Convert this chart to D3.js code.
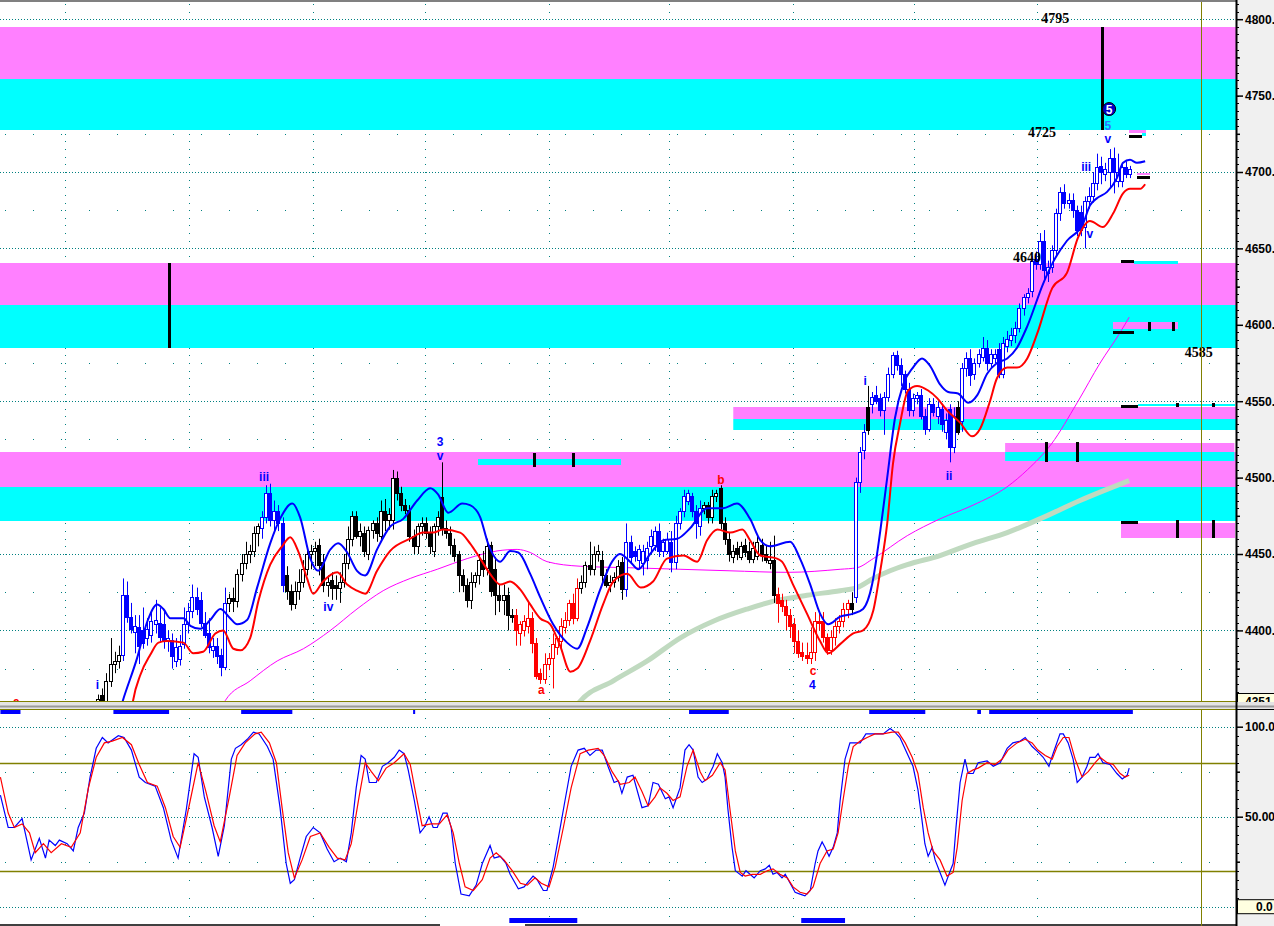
<!DOCTYPE html>
<html>
<head>
<meta charset="utf-8">
<script src="https://d3js.org/d3.v7.min.js"></script>
<style>
    html, body { margin: 0; padding: 0; background: #fff; overflow: hidden; }
    svg { display: block; }
    .wave { font-family: Arial, "Liberation Sans", sans-serif; font-weight: bold;
            font-size: 12px; text-anchor: middle; }
    .lvl { font-family: "Liberation Serif", "Times New Roman", serif; font-weight: bold;
           font-size: 14px; fill: #000; }
    .axis text { font-family: Arial, "Liberation Sans", sans-serif; font-weight: bold;
                 font-size: 12px; fill: #000; }
</style>
</head>
<body>
<script>
// ---------------------------------------------------------------------------
// Chart data. Bars are numbered from 0 (first bar that shows above 4351).
// Price series are [open, high, low, close]; lines are [bar, value].
// ---------------------------------------------------------------------------
var candles = [
    [4352,4358,4348,4355],[4358,4362,4348,4352],[4353,4372,4350,4367],[4367,4395,4363,4378],
    [4378,4386,4372,4380],[4380,4390,4375,4384],[4384,4434,4380,4423],[4423,4432,4405,4409],
    [4409,4418,4398,4401],[4399,4410,4385,4403],[4402,4410,4378,4390],[4400,4415,4388,4392],
    [4395,4408,4390,4401],[4397,4412,4392,4406],[4404,4420,4398,4407],[4405,4415,4392,4396],
    [4404,4412,4388,4394],[4393,4400,4386,4395],[4394,4398,4375,4383],[4380,4395,4376,4389],
    [4381,4397,4377,4390],[4391,4415,4388,4404],[4404,4418,4398,4413],[4413,4430,4408,4422],
    [4422,4428,4410,4414],[4420,4425,4402,4405],[4405,4412,4395,4397],[4398,4408,4385,4389],
    [4387,4395,4382,4390],[4390,4395,4378,4383],[4384,4388,4370,4376],[4376,4428,4374,4418],
    [4418,4424,4412,4421],[4421,4428,4412,4419],[4419,4440,4415,4437],[4437,4450,4432,4444],
    [4444,4458,4440,4450],[4450,4456,4444,4452],[4452,4468,4448,4464],[4464,4470,4455,4468],
    [4467,4478,4460,4474],[4474,4495,4470,4490],[4490,4496,4468,4472],[4472,4485,4465,4478],
    [4478,4482,4465,4470],[4470,4474,4425,4430],[4436,4442,4420,4426],[4426,4430,4413,4417],
    [4417,4432,4414,4426],[4426,4440,4420,4432],[4432,4446,4428,4440],[4440,4455,4436,4450],
    [4450,4456,4440,4452],[4452,4458,4442,4454],[4456,4460,4436,4443],[4445,4450,4425,4430],
    [4430,4436,4422,4432],[4433,4438,4420,4428],[4430,4436,4420,4428],[4428,4438,4418,4432],
    [4432,4450,4428,4444],[4444,4468,4440,4460],[4460,4478,4455,4475],[4475,4478,4460,4462],
    [4462,4470,4455,4465],[4464,4468,4448,4452],[4450,4468,4446,4466],[4466,4472,4460,4470],
    [4470,4474,4458,4464],[4462,4485,4458,4478],[4478,4486,4465,4472],[4472,4480,4466,4476],
    [4472,4505,4466,4500],[4500,4504,4485,4490],[4490,4494,4478,4482],[4482,4486,4476,4479],
    [4479,4482,4458,4462],[4462,4466,4450,4455],[4455,4470,4450,4468],[4468,4474,4462,4470],
    [4470,4474,4460,4464],[4464,4468,4450,4455],[4452,4470,4448,4468],[4468,4478,4462,4474],
    [4487,4510,4462,4467],[4467,4472,4460,4464],[4464,4468,4450,4456],[4456,4460,4445,4449],
    [4450,4452,4425,4436],[4436,4440,4425,4430],[4430,4434,4415,4420],[4420,4438,4414,4432],
    [4432,4438,4428,4436],[4436,4450,4430,4446],[4446,4452,4435,4440],[4441,4460,4436,4455],
    [4456,4458,4422,4426],[4440,4448,4410,4423],[4423,4430,4412,4420],[4420,4430,4410,4423],
    [4423,4428,4400,4410],[4410,4414,4405,4409],[4410,4414,4390,4400],[4398,4406,4390,4404],
    [4400,4410,4396,4406],[4403,4418,4398,4408],[4408,4412,4385,4392],[4392,4395,4368,4370],
    [4372,4375,4365,4368],[4368,4385,4365,4378],[4378,4385,4374,4382],[4382,4398,4362,4391],
    [4389,4396,4384,4395],[4393,4408,4388,4403],[4402,4412,4398,4407],[4407,4420,4403,4418],
    [4418,4424,4404,4408],[4408,4434,4406,4428],[4428,4436,4424,4432],[4432,4445,4428,4443],
    [4443,4458,4436,4440],[4440,4455,4436,4450],[4450,4456,4445,4452],[4446,4452,4430,4436],
    [4436,4440,4428,4430],[4430,4436,4425,4432],[4432,4438,4428,4435],[4435,4446,4432,4442],
    [4445,4448,4420,4427],[4427,4470,4422,4458],[4458,4462,4444,4448],[4452,4455,4445,4449],
    [4446,4456,4440,4453],[4444,4456,4436,4452],[4446,4458,4440,4454],[4455,4466,4450,4462],
    [4456,4468,4452,4465],[4465,4470,4448,4452],[4452,4460,4448,4458],[4452,4464,4450,4460],
    [4458,4465,4438,4445],[4445,4475,4440,4470],[4470,4480,4466,4478],[4478,4492,4474,4488],
    [4485,4492,4482,4490],[4488,4490,4474,4478],[4478,4482,4460,4470],[4468,4485,4462,4480],
    [4480,4484,4476,4482],[4482,4484,4470,4474],[4474,4492,4470,4488],[4488,4492,4484,4490],
    [4493,4495,4466,4470],[4470,4474,4456,4460],[4460,4464,4445,4450],[4448,4456,4444,4452],
    [4454,4458,4446,4450],[4448,4458,4446,4455],[4456,4460,4448,4451],[4452,4458,4444,4447],
    [4447,4458,4444,4454],[4449,4462,4446,4458],[4456,4460,4445,4450],[4450,4456,4444,4446],
    [4444,4458,4440,4446],[4446,4462,4418,4423],[4424,4428,4405,4418],[4420,4424,4412,4416],
    [4416,4420,4400,4410],[4410,4414,4395,4403],[4404,4408,4385,4393],[4393,4400,4382,4385],
    [4386,4392,4380,4383],[4384,4392,4378,4382],[4382,4402,4378,4386],[4386,4412,4380,4406],
    [4406,4412,4400,4405],[4406,4412,4392,4396],[4396,4398,4384,4387],[4387,4400,4384,4396],
    [4396,4408,4390,4403],[4403,4410,4398,4406],[4406,4418,4402,4414],[4414,4420,4408,4418],
    [4418,4425,4410,4414],[4422,4500,4418,4497],[4497,4520,4490,4517],[4518,4535,4512,4530],
    [4546,4560,4528,4531],[4548,4556,4542,4553],[4554,4560,4548,4550],[4552,4555,4540,4544],
    [4544,4556,4528,4553],[4553,4572,4550,4568],[4568,4582,4565,4580],[4580,4583,4570,4574],
    [4574,4578,4560,4568],[4568,4570,4555,4558],[4558,4562,4540,4544],[4544,4555,4540,4552],
    [4552,4556,4548,4554],[4554,4558,4538,4540],[4540,4545,4528,4532],[4532,4552,4530,4548],
    [4548,4552,4540,4543],[4540,4550,4535,4546],[4545,4548,4530,4535],[4530,4542,4525,4538],
    [4545,4548,4510,4520],[4520,4546,4516,4540],[4546,4550,4528,4530],[4537,4575,4530,4572],
    [4572,4582,4566,4578],[4578,4584,4560,4567],[4568,4578,4564,4575],[4575,4584,4572,4581],
    [4579,4592,4576,4585],[4585,4590,4570,4575],[4575,4584,4572,4581],[4578,4584,4575,4581],
    [4584,4588,4565,4568],[4568,4592,4565,4588],[4586,4596,4582,4591],[4590,4598,4586,4593],
    [4593,4602,4588,4598],[4598,4614,4595,4611],[4611,4620,4606,4618],[4618,4624,4614,4621],
    [4622,4645,4618,4642],[4643,4648,4636,4640],[4640,4660,4636,4655],[4655,4662,4630,4636],
    [4634,4642,4628,4638],[4638,4652,4634,4649],[4649,4676,4645,4673],[4673,4690,4668,4687],
    [4687,4692,4676,4680],[4680,4686,4676,4682],[4682,4686,4670,4675],[4675,4678,4658,4662],
    [4674,4678,4658,4662],[4664,4684,4650,4681],[4681,4690,4676,4684],[4684,4700,4680,4693],
    [4693,4712,4688,4703],[4704,4710,4692,4700],[4699,4706,4694,4702],[4700,4715,4690,4709],
    [4709,4716,4686,4700],[4694,4712,4690,4700],[4694,4706,4690,4703],[4703,4707,4696,4699],
    [4699,4704,4696,4702]
];

// bar ranges painted blue / red by the trend colouring
var blueRuns = [[6,31],[40,45],[129,147],[185,187],[189,209],[211,252]];
var redRuns = [[102,117],[166,183]];

// smoothed upper (blue) and lower (red) lines
var upperLine = [[5,4345],[6,4354],[9.5,4382],[12,4406],[14.4,4417],[15.9,4414],[17.6,4408],
    [20.8,4408],[22.5,4403],[24.9,4401],[27.4,4407],[29.8,4414],[32.2,4408],[33.9,4404],
    [36.4,4407],[38.8,4428],[42,4457],[44.4,4473],[47.4,4483],[49.3,4474],[51.8,4447],
    [53.7,4439],[56.7,4453],[58.6,4457],[60.8,4451],[63.2,4439],[65.2,4436],[68.1,4453],
    [71.3,4468],[74.5,4473],[77.9,4485],[81.1,4493],[83,4489],[85.5,4477],[88.9,4483],
    [90.8,4482],[93.3,4474],[95.2,4457],[98.2,4445],[100.6,4452],[102.6,4451],[105.5,4437],
    [107.9,4422],[111.1,4404],[114.5,4392],[117,4388],[119.4,4402],[122.5,4426],[125.5,4445],
    [127.4,4450],[129.9,4445],[131.9,4440],[134.8,4450],[138,4459],[141.4,4460],[144.6,4467],
    [148.7,4480],[152.6,4480],[156,4483],[159.2,4473],[161.7,4459],[164.1,4455],[169,4458],
    [171.4,4447],[173.9,4430],[176.3,4411],[178.3,4404],[181.2,4409],[184.4,4411],[186.8,4414],
    [189,4430],[191,4465],[192.7,4500],[194.6,4539],[196.6,4561],[199,4572],[201.2,4578],
    [203.2,4573],[205.6,4561],[207.6,4556],[210,4555],[212.5,4549],[214.7,4554],[217.1,4568],
    [219.5,4575],[222,4578],[224.4,4585],[226.9,4599],[230.8,4627],[233.2,4641],[236.6,4655],
    [240.5,4666],[242.2,4678],[244,4683],[246.4,4687],[248.8,4696],[250.3,4706],[252,4708],
    [253.7,4706],[255.7,4707]];
var lowerLine = [[8,4345],[8.5,4354],[10.3,4371],[12.7,4384],[14.7,4392],[16.8,4393],
    [20.8,4392],[23.2,4385],[25.6,4386],[28.6,4398],[30.5,4400],[33,4388],[34.7,4387],
    [37.1,4395],[39.1,4419],[42,4443],[44.9,4455],[46.9,4461],[48.8,4452],[51,4434],
    [52.5,4424],[54.9,4432],[58.4,4438],[60.8,4430],[63.2,4426],[65.2,4424],[68.1,4439],
    [71.3,4452],[76.2,4460],[79.4,4464],[81.8,4464],[84.2,4466],[88.4,4464],[90.8,4457],
    [93.3,4447],[95.7,4437],[98.2,4430],[100.6,4432],[103,4427],[105.5,4417],[107.9,4408],
    [110.4,4404],[112.8,4390],[115.3,4373],[117,4375],[120.1,4393],[123.3,4417],[125.8,4432],
    [129.2,4437],[132.5,4428],[135.5,4432],[138.9,4447],[142.9,4449],[146.3,4445],[148.7,4459],
    [151.2,4466],[154.4,4464],[157.3,4466],[159.2,4459],[161.7,4449],[165.8,4447],[167,4445],
    [169.7,4430],[173.1,4411],[176.3,4393],[178.3,4385],[181.2,4391],[184.4,4398],[186.8,4400],
    [189.3,4413],[191,4439],[192.7,4470],[194.1,4509],[195.8,4535],[197.8,4557],[200,4560],
    [202.7,4557],[204.9,4552],[207.3,4544],[210.5,4536],[213.4,4527],[215.4,4532],[217.8,4550],
    [219.5,4565],[222,4572],[224.4,4572],[226.9,4578],[229.3,4594],[233,4624],[236.6,4634],
    [239.3,4657],[242.2,4668],[245.4,4664],[247.9,4673],[250.3,4686],[252,4689],[254.5,4689],
    [255.7,4692]];

// moving averages
var fastMA = [[30,4345],[31,4354],[37.1,4367],[43.7,4380],[50.1,4388],[56.7,4400],
    [63.2,4414],[69.6,4426],[76.2,4434],[82.8,4440],[90.1,4447],[94,4450],[97.4,4452],
    [102.3,4453],[105.5,4451],[109.6,4445],[117.7,4442],[129.9,4441],[142.1,4440],
    [154.3,4439],[168.5,4438],[181.2,4440],[185.3,4441],[189.3,4447],[197.6,4462],
    [205.6,4473],[213.7,4482],[222,4494],[226.9,4505],[232.8,4522],[239.1,4549],
    [244.7,4575],[249.6,4595],[251.8,4605]];
var slowMA = [[116,4345],[117.2,4352],[125.8,4367],[134.1,4380],[142.1,4395],[150.2,4406],
    [158.5,4414],[164.8,4419],[173.1,4423],[181.2,4426],[185.3,4428],[189.3,4434],
    [193.4,4439],[197.6,4443],[205.6,4449],[213.7,4457],[222,4464],[230,4473],
    [239.8,4485],[251.8,4498]];

// stochastic %K (blue) and %D (red)
var stochK = [[-23.9,62],[-22,44],[-20.5,44],[-18.6,49],[-16.4,26],[-14.4,38],[-12.9,27],
    [-12,37],[-10.5,34],[-9.5,37],[-7.6,35],[-6.1,31],[-4.9,44],[-3.4,52],[-2,72],[-0.5,88],
    [1,94],[2.4,91],[4.9,95],[6.3,94],[8.1,87],[10,72],[11.5,69],[13.9,67],[15.9,55],
    [17.8,37],[19.5,27],[21.5,54],[23.4,85],[24.4,83],[25.9,61],[27.8,44],[29.3,28],
    [30.8,45],[32.5,82],[33.5,88],[34.9,90],[36.4,93],[37.9,97],[39.3,96],[41.3,89],
    [42.7,82],[44.4,55],[45.9,24],[46.9,13],[47.9,15],[49.3,27],[50.8,39],[52.5,44],
    [54.2,41],[55.9,32],[57.6,25],[59.1,27],[60.6,25],[61.8,41],[63,66],[64.2,84],[65.2,82],
    [66.2,69],[67.9,69],[69.4,78],[70.8,80],[72.3,83],[73.5,87],[74.7,85],[75.7,76],
    [77.2,59],[78.6,41],[79.6,44],[80.8,50],[81.8,44],[82.8,44],[84.2,52],[85.2,52],
    [86.2,44],[87.2,24],[88.6,7],[90.6,6],[92.3,12],[93.8,24],[95.7,34],[96.7,27],[98.2,28],
    [99.6,24],[100.6,18],[102.6,10],[104,11],[106.2,17],[107.2,15],[108.7,9],[109.6,9],
    [111.1,22],[112.6,41],[114,59],[115.5,78],[117.2,87],[118.7,88],[120.1,84],[121.6,87],
    [123.1,87],[124.5,78],[126,69],[127,70],[127.9,63],[129.2,72],[130.6,73],[132.8,55],
    [134.3,56],[135.5,69],[136.8,68],[138.5,60],[139.4,61],[140.4,55],[142.1,66],[143.3,87],
    [144.3,90],[145.3,87],[146.5,72],[147.5,69],[148.7,71],[150.2,78],[151.2,85],[152.4,80],
    [153.1,72],[153.8,54],[154.8,33],[155.6,20],[157.3,17],[158.2,20],[159.2,18],[160.2,16],
    [161.7,20],[162.9,21],[163.9,23],[164.8,18],[165.8,19],[167,16],[167.8,18],[169,13],
    [170.2,8],[171.4,7],[172.6,6],[173.9,9],[175.1,24],[175.8,31],[176.8,36],[177.5,33],
    [178.5,28],[179.5,33],[180.5,41],[181.2,59],[182.4,82],[183.6,91],[186.1,91],[187.5,96],
    [189,96],[190.2,96],[191.7,96],[193.4,99],[194.6,97],[195.8,94],[197.6,85],[199,78],
    [200.2,65],[201.2,48],[201.9,35],[202.7,28],[203.7,33],[204.4,26],[205.6,19],[206.8,12],
    [208.1,20],[208.8,24],[209.5,44],[210.5,69],[211.7,82],[212.5,74],[213.7,74],[214.9,80],
    [217.1,81],[218.6,78],[220.3,80],[222,88],[223.4,91],[225.2,92],[226.4,94],[228.1,89],
    [229.5,86],[230.8,83],[232.2,78],[233.2,85],[234.9,96],[235.7,96],[236.9,91],[238.1,82],
    [239.1,69],[240.3,72],[241.5,78],[242.2,83],[243.5,83],[244.2,85],[245.4,80],[247.1,79],
    [248.8,74],[250.1,71],[251.3,73],[251.8,77]];
var stochD = [[-23.9,72],[-22,52],[-20.5,44],[-18.6,46],[-16.8,41],[-15.4,30],[-13.4,35],
    [-11.5,30],[-9,35],[-6.6,33],[-4.4,41],[-2.4,66],[-0.5,83],[1.5,91],[3.4,92],[5.9,94],
    [8.1,90],[10,79],[12,69],[14.4,67],[16.4,55],[18.3,39],[20,33],[22,54],[24.4,80],
    [26.4,63],[28.3,45],[29.8,36],[32,61],[33.9,84],[35.9,91],[38.3,96],[39.8,97],[41.8,91],
    [43.5,80],[44.9,55],[46.4,30],[47.9,16],[49.8,26],[51.8,39],[54.2,41],[56.4,33],
    [58.4,27],[60.3,26],[61.8,35],[63.7,61],[65.2,80],[66.7,75],[68.4,70],[70.3,77],
    [72.3,80],[74.7,85],[76.2,79],[77.7,61],[79.1,45],[81.3,46],[83.3,46],[85.2,51],
    [86.7,41],[88.2,24],[89.6,11],[91.6,9],[93.8,15],[95.7,27],[97.2,30],[99.1,26],
    [101.1,20],[103.1,13],[104.8,12],[106.7,16],[108.2,13],[110.1,11],[111.6,22],[113.6,44],
    [115.5,66],[117.7,85],[119.7,87],[122.1,88],[123.6,84],[125.5,75],[127.5,68],[129.7,69],
    [131.1,72],[132.8,64],[134.3,56],[136,61],[137.2,66],[138.9,63],[140.4,59],[142.1,61],
    [143.8,78],[145.3,87],[147,75],[148.2,70],[150,73],[151.9,80],[153.1,76],[154.3,54],
    [155.6,31],[156.8,19],[158,17],[159.7,18],[161.7,18],[163.4,20],[164.8,21],[166.5,18],
    [168.3,16],[169.7,11],[171.4,8],[173.1,7],[174.6,11],[176.3,24],[178,31],[179.5,32],
    [180.7,41],[181.9,59],[183.2,78],[184.4,89],[186.1,92],[187.8,94],[189.7,96],[191.7,96],
    [193.9,97],[195.4,97],[197.1,91],[198.8,83],[200.2,74],[201.5,55],[202.7,41],[203.9,31],
    [205.6,26],[207.3,17],[208.8,19],[209.8,33],[211,59],[212.2,74],[213.7,76],[214.9,77],
    [217.1,80],[219,79],[220.8,82],[222.2,87],[224.4,91],[226.4,93],[228.1,91],[229.5,87],
    [231.3,84],[233,82],[234.2,89],[235.7,94],[237.1,94],[238.6,82],[240.3,72],[241.8,75],
    [243.5,80],[244.7,83],[246.4,80],[247.9,79],[249.6,74],[250.8,72],[251.8,73]];

// target zones: [fromBar, toBar, low, middle, high]  (magenta above middle, cyan below)
var zones = [[-24,278,4727.5,4761,4795],[-24,278,4585,4613,4640.5],[-24,278,4471.5,4494,4517],
    [155.1,278,4531,4538.5,4546],[221.5,277.5,4511,4517,4522.6]];
// small projection pieces: [fromBar, toBar, low, high]
var magentaBits = [[251.8,255.9,4725.5,4727.5],[253.7,256.9,4698,4699.5],
    [247.9,263.7,4597,4601.6],[249.8,277.7,4460,4470]];
var cyanBits = [[254.9,255.9,4723.5,4725.5],[253,263.7,4640,4642],
    [254,277.7,4546.8,4548],[92.8,127.7,4508,4512]];
// black dashes [fromBar, toBar, price] and ticks [bar, low, high]
var blackDashes = [[251.8,254.9,4723.8],[253.7,256.9,4697],[249.8,253,4641.5],
    [247.9,253,4595.5],[249.8,254,4547],[249.8,254,4471]];
var blackTicks = [[17.3,4585,4640.5],[245.2,4727.5,4795],[106.5,4507,4516],[116,4507,4516],
    [231.5,4510.5,4523.6],[239.1,4510.5,4523.6],[256.7,4595.7,4601.6],[262.5,4595.7,4601.6],
    [263.5,4460,4472],[272.3,4460,4472],[263.5,4546.5,4549],[272.3,4546.5,4549]];

// level labels [text, bar, price] and wave counts
var levelLabels = [["4795",230.3,4797.5],["4725",227.1,4722.9],["4640",223.4,4641.1],
    ["4585",265.4,4578.9]];
var blueWaves = [["i",-0.2,4361.7],["iii",40.5,4497.8],["iv",56.2,4412.7],["3",83.5,4520.7],
    ["v",83.5,4511.5],["i",187.3,4560.6],["ii",207.8,4498.5],["iii",241.3,4700.7],
    ["v",242.2,4656.9],["v",246.6,4719],["4",174.4,4361.6]];
var lightWaves = [["5",246.6,4727.5]];
var redWaves = [["a",108.2,4358.4],["b",152.1,4495.9],["c",174.6,4371],["a",-20,4350.5]];
var circledMark = [246.9, 4741.2, "5"];
var lowestShown = 4351;

// signal strips under the price panel and at the bottom
var topSignal = [[-23.9,-19],[3.7,17.3],[34.9,47.4],[76.9,77.4],[144.3,154],[188.3,202],
    [214.7,215.6],[217.6,252.7]];
var bottomSignal = [[100.4,117],[171.7,182.4]];

// vertical time grid (bar positions) and axis ticks
var timeGrid = [-8.1,22.2,52.5,79.9,110.1,139.4,169.7,199.3,229.3];
var priceTicks = [4400,4450,4500,4550,4600,4650,4700,4750,4800];
var priceMinor = [4375,4425,4475,4525,4575,4625,4675,4725,4775];
var stochTicks = [50,100];
var stochMinor = [25,75];
var stochBands = [20,80];

// ---------------------------------------------------------------------------
var W = 1274, H = 926, plotRight = 1236;
var topY0 = 2, topY1 = 701, botY0 = 710, botY1 = 924;

var svg = d3.select("body").append("svg").attr("width", W).attr("height", H);
var defs = svg.append("defs");
defs.append("clipPath").attr("id", "clipTop").append("rect")
    .attr("x", 0).attr("y", topY0).attr("width", plotRight).attr("height", topY1 - topY0);
defs.append("clipPath").attr("id", "clipBot").append("rect")
    .attr("x", 0).attr("y", botY0).attr("width", plotRight).attr("height", botY1 - botY0);

var x = d3.scaleLinear().domain([-24, 252]).range([0, 1130]);
var yP = d3.scaleLinear().domain([4400, 4800]).range([630.4, 19.2]);
var yS = d3.scaleLinear().domain([0, 100]).range([906.7, 726.7]);

var TEAL = "#008080", OLIVE = "#808000";
var px = function(v) { return Math.round(v) + 0.5; };

// axis background
svg.append("rect").attr("x", plotRight).attr("y", 0).attr("width", W - plotRight)
    .attr("height", H).attr("fill", "#f0f0f0");

// ---------------- upper panel ----------------
var upper = svg.append("g").attr("clip-path", "url(#clipTop)");

// grid
upper.selectAll("line.gmaj").data(priceTicks).join("line")
    .attr("x1", 0).attr("x2", plotRight)
    .attr("y1", function(d) { return px(yP(d)); }).attr("y2", function(d) { return px(yP(d)); })
    .attr("stroke", TEAL).attr("stroke-dasharray", "1,2");
upper.selectAll("line.gmin").data(priceMinor).join("line")
    .attr("x1", 0).attr("x2", plotRight)
    .attr("y1", function(d) { return px(yP(d)); }).attr("y2", function(d) { return px(yP(d)); })
    .attr("stroke", TEAL).attr("stroke-dasharray", "1,27").attr("stroke-dashoffset", 23);
upper.selectAll("rect.vdot").data(d3.cross(timeGrid, d3.range(4355, 4811, 5))).join("rect")
    .attr("x", function(d) { return Math.round(x(d[0])); })
    .attr("y", function(d) { return Math.round(yP(d[1])); })
    .attr("width", 1).attr("height", 1).attr("fill", TEAL);

// zones
zones.forEach(function(z) {
    upper.append("rect").attr("x", x(z[0])).attr("width", x(z[1]) - x(z[0]))
        .attr("y", Math.round(yP(z[4]))).attr("height", Math.round(yP(z[3])) - Math.round(yP(z[4])))
        .attr("fill", "#ff80ff");
    upper.append("rect").attr("x", x(z[0])).attr("width", x(z[1]) - x(z[0]))
        .attr("y", Math.round(yP(z[3]))).attr("height", Math.round(yP(z[2])) - Math.round(yP(z[3])))
        .attr("fill", "#00ffff");
});
function bits(data, colour) {
    upper.append("g").selectAll("rect").data(data).join("rect")
        .attr("x", function(d) { return Math.round(x(d[0])); })
        .attr("width", function(d) { return Math.round(x(d[1]) - x(d[0])); })
        .attr("y", function(d) { return Math.round(yP(d[3])); })
        .attr("height", function(d) { return Math.max(2, Math.round(yP(d[2]) - yP(d[3]))); })
        .attr("fill", colour);
}
bits(magentaBits, "#ff80ff");
bits(cyanBits, "#00ffff");

// moving averages
var priceLine = d3.line().x(function(d) { return x(d[0]); })
    .y(function(d) { return yP(d[1]); }).curve(d3.curveMonotoneX);
upper.append("path").datum(slowMA).attr("d", priceLine).attr("fill", "none")
    .attr("stroke", "#c0dac0").attr("stroke-width", 5);
upper.append("path").datum(fastMA).attr("d", priceLine).attr("fill", "none")
    .attr("stroke", "#ff00ff").attr("stroke-width", 1);

// candles
function barColour(i) {
    var c = "#000";
    blueRuns.forEach(function(r) { if (i >= r[0] && i <= r[1]) c = "#0000ff"; });
    redRuns.forEach(function(r) { if (i >= r[0] && i <= r[1]) c = "#ff0000"; });
    return c;
}
var bars = upper.append("g").selectAll("g").data(candles).join("g");
bars.append("line")
    .attr("x1", function(d, i) { return Math.round(x(i)) + 0.5; })
    .attr("x2", function(d, i) { return Math.round(x(i)) + 0.5; })
    .attr("y1", function(d) { return yP(d[1]); })
    .attr("y2", function(d) { return yP(d[2]); })
    .attr("stroke", function(d, i) { return barColour(i); }).attr("stroke-width", 1);
bars.append("rect")
    .attr("x", function(d, i) { return Math.round(x(i)) - 1.5; })
    .attr("width", 3)
    .attr("y", function(d) { return Math.round(yP(Math.max(d[0], d[3]))) + 0.5; })
    .attr("height", function(d) {
        return Math.max(1, Math.round(yP(Math.min(d[0], d[3]))) - Math.round(yP(Math.max(d[0], d[3]))));
    })
    .attr("fill", function(d, i) { return d[3] >= d[0] ? "#fff" : barColour(i); })
    .attr("stroke", function(d, i) { return barColour(i); }).attr("stroke-width", 1);

// envelope lines
upper.append("path").datum(upperLine).attr("d", priceLine).attr("fill", "none")
    .attr("stroke", "#0000ff").attr("stroke-width", 2);
upper.append("path").datum(lowerLine).attr("d", priceLine).attr("fill", "none")
    .attr("stroke", "#ff0000").attr("stroke-width", 2);

// black projection marks
upper.append("g").selectAll("rect").data(blackDashes).join("rect")
    .attr("x", function(d) { return Math.round(x(d[0])); })
    .attr("width", function(d) { return Math.round(x(d[1]) - x(d[0])); })
    .attr("y", function(d) { return Math.round(yP(d[2])) - 1; }).attr("height", 3)
    .attr("fill", "#000");
upper.append("g").selectAll("rect").data(blackTicks).join("rect")
    .attr("x", function(d) { return Math.round(x(d[0])) - 1; }).attr("width", 3)
    .attr("y", function(d) { return Math.round(yP(d[2])); })
    .attr("height", function(d) { return Math.round(yP(d[1]) - yP(d[2])); })
    .attr("fill", "#000");

// labels
upper.append("g").selectAll("text").data(levelLabels).join("text").attr("class", "lvl")
    .attr("x", function(d) { return x(d[1]); }).attr("y", function(d) { return yP(d[2]); })
    .text(function(d) { return d[0]; });
function waves(data, colour) {
    upper.append("g").selectAll("text").data(data).join("text").attr("class", "wave")
        .attr("fill", colour)
        .attr("x", function(d) { return x(d[1]); }).attr("y", function(d) { return yP(d[2]); })
        .text(function(d) { return d[0]; });
}
waves(blueWaves, "#0000ff");
waves(lightWaves, "#2f6fff");
waves(redWaves, "#ff0000");
upper.append("circle").attr("cx", x(circledMark[0])).attr("cy", yP(circledMark[1])).attr("r", 6.5)
    .attr("fill", "#0000c8").attr("stroke", "#000").attr("stroke-width", 1);
upper.append("text").attr("x", x(circledMark[0])).attr("y", yP(circledMark[1]) + 4.5)
    .attr("text-anchor", "middle").attr("fill", "#fff")
    .style("font", "bold 12px Arial, 'Liberation Sans', sans-serif").text(circledMark[2]);

// ---------------- lower panel ----------------
var lower = svg.append("g").attr("clip-path", "url(#clipBot)");
lower.selectAll("line.smaj").data([0, 50, 100]).join("line")
    .attr("x1", 0).attr("x2", plotRight)
    .attr("y1", function(d) { return px(yS(d)); }).attr("y2", function(d) { return px(yS(d)); })
    .attr("stroke", TEAL).attr("stroke-dasharray", "1,2");
lower.selectAll("line.smin").data(stochMinor).join("line")
    .attr("x1", 0).attr("x2", plotRight)
    .attr("y1", function(d) { return px(yS(d)); }).attr("y2", function(d) { return px(yS(d)); })
    .attr("stroke", TEAL).attr("stroke-dasharray", "1,27").attr("stroke-dashoffset", 23);
lower.selectAll("rect.vdot").data(d3.cross(timeGrid, d3.range(-5, 110, 10))).join("rect")
    .attr("x", function(d) { return Math.round(x(d[0])); })
    .attr("y", function(d) { return Math.round(yS(d[1])); })
    .attr("width", 1).attr("height", 1).attr("fill", TEAL);
lower.selectAll("line.band").data(stochBands).join("line")
    .attr("x1", 0).attr("x2", plotRight)
    .attr("y1", function(d) { return px(yS(d)); }).attr("y2", function(d) { return px(yS(d)); })
    .attr("stroke", OLIVE).attr("stroke-width", 1.5);

var stochLine = d3.line().x(function(d) { return x(d[0]); }).y(function(d) { return yS(d[1]); });
lower.append("path").datum(stochK).attr("d", stochLine).attr("fill", "none")
    .attr("stroke", "#0000ff").attr("stroke-width", 1.2);
lower.append("path").datum(stochD).attr("d", stochLine).attr("fill", "none")
    .attr("stroke", "#ff0000").attr("stroke-width", 1.2);

lower.append("g").selectAll("rect").data(topSignal).join("rect")
    .attr("x", function(d) { return x(d[0]); })
    .attr("width", function(d) { return Math.max(2, x(d[1]) - x(d[0])); })
    .attr("y", 710).attr("height", 4).attr("fill", "#0000ff");
lower.append("g").selectAll("rect").data(bottomSignal).join("rect")
    .attr("x", function(d) { return x(d[0]); })
    .attr("width", function(d) { return x(d[1]) - x(d[0]); })
    .attr("y", 918).attr("height", 5).attr("fill", "#0000ff");

// bottom edge line (with the gap seen in the reference)
svg.append("line").attr("x1", 0).attr("x2", 440).attr("y1", 925).attr("y2", 925)
    .attr("stroke", "#000").attr("stroke-width", 1.5);
svg.append("line").attr("x1", 525).attr("x2", plotRight).attr("y1", 925).attr("y2", 925)
    .attr("stroke", "#000").attr("stroke-width", 1.5);

// olive time marker
svg.append("line").attr("x1", 1201.5).attr("x2", 1201.5).attr("y1", 0).attr("y2", H)
    .attr("stroke", OLIVE).attr("stroke-width", 1);

// ---------------- axes ----------------
var axisP = svg.append("g").attr("class", "axis").attr("transform", "translate(" + plotRight + ",0)")
    .call(d3.axisRight(yP).tickValues(priceTicks).tickSize(7).tickPadding(2)
        .tickFormat(d3.format(".2f")));
axisP.select(".domain").remove();
axisP.selectAll(".tick line").attr("stroke", "#000").attr("stroke-width", 1.5);
var axisPm = svg.append("g").attr("transform", "translate(" + plotRight + ",0)")
    .call(d3.axisRight(yP).tickValues(priceMinor).tickSize(4).tickFormat(""));
axisPm.select(".domain").remove();
axisPm.selectAll(".tick line").attr("stroke", "#000").attr("stroke-width", 1.5);
svg.append("g").selectAll("rect").data(d3.range(4355, 4811, 5)).join("rect")
    .attr("x", plotRight + 1).attr("y", function(d) { return Math.round(yP(d)); })
    .attr("width", 2).attr("height", 1).attr("fill", "#000");

var axisS = svg.append("g").attr("class", "axis").attr("transform", "translate(" + plotRight + ",0)")
    .call(d3.axisRight(yS).tickValues(stochTicks).tickSize(7).tickPadding(2)
        .tickFormat(d3.format(".2f")));
axisS.select(".domain").remove();
axisS.selectAll(".tick line").attr("stroke", "#000").attr("stroke-width", 1.5);
var axisSm = svg.append("g").attr("transform", "translate(" + plotRight + ",0)")
    .call(d3.axisRight(yS).tickValues(stochMinor).tickSize(4).tickFormat(""));
axisSm.select(".domain").remove();
axisSm.selectAll(".tick line").attr("stroke", "#000").attr("stroke-width", 1.5);
svg.append("g").selectAll("rect").data(d3.range(5, 100, 5)).join("rect")
    .attr("x", plotRight + 1).attr("y", function(d) { return Math.round(yS(d)); })
    .attr("width", 2).attr("height", 1).attr("fill", "#000");

// boxed bottom values
svg.append("rect").attr("x", plotRight + 1.5).attr("y", 693.5).attr("width", 40).attr("height", 16)
    .attr("fill", "#ffffe0").attr("stroke", "#000");
svg.append("text").attr("x", 1245).attr("y", 706)
    .style("font", "bold 12px Arial, 'Liberation Sans', sans-serif").text(lowestShown);
svg.append("rect").attr("x", plotRight + 1.5).attr("y", yS(0) - 7).attr("width", 40).attr("height", 14)
    .attr("fill", "#ffffe0").attr("stroke", "#000");
svg.append("text").attr("x", 1256).attr("y", yS(0) + 4.5)
    .style("font", "bold 12px Arial, 'Liberation Sans', sans-serif").text("0.0");

// panel separator and frame
svg.append("rect").attr("x", 0).attr("y", 702).attr("width", W).attr("height", 7)
    .attr("fill", "#e4e4e4");
svg.append("line").attr("x1", 0).attr("x2", W).attr("y1", 706.5).attr("y2", 706.5)
    .attr("stroke", "#9a9a9a").attr("stroke-width", 2);
svg.append("line").attr("x1", 0).attr("x2", plotRight).attr("y1", 701.5).attr("y2", 701.5)
    .attr("stroke", OLIVE).attr("stroke-width", 1);
svg.append("line").attr("x1", 0).attr("x2", plotRight).attr("y1", 709.5).attr("y2", 709.5)
    .attr("stroke", OLIVE).attr("stroke-width", 1);
svg.append("line").attr("x1", 0).attr("x2", plotRight).attr("y1", 1).attr("y2", 1)
    .attr("stroke", "#808080").attr("stroke-width", 2);
svg.append("line").attr("x1", plotRight + 0.5).attr("x2", plotRight + 0.5).attr("y1", 0).attr("y2", H)
    .attr("stroke", "#000").attr("stroke-width", 2);
</script>
</body>
</html>
